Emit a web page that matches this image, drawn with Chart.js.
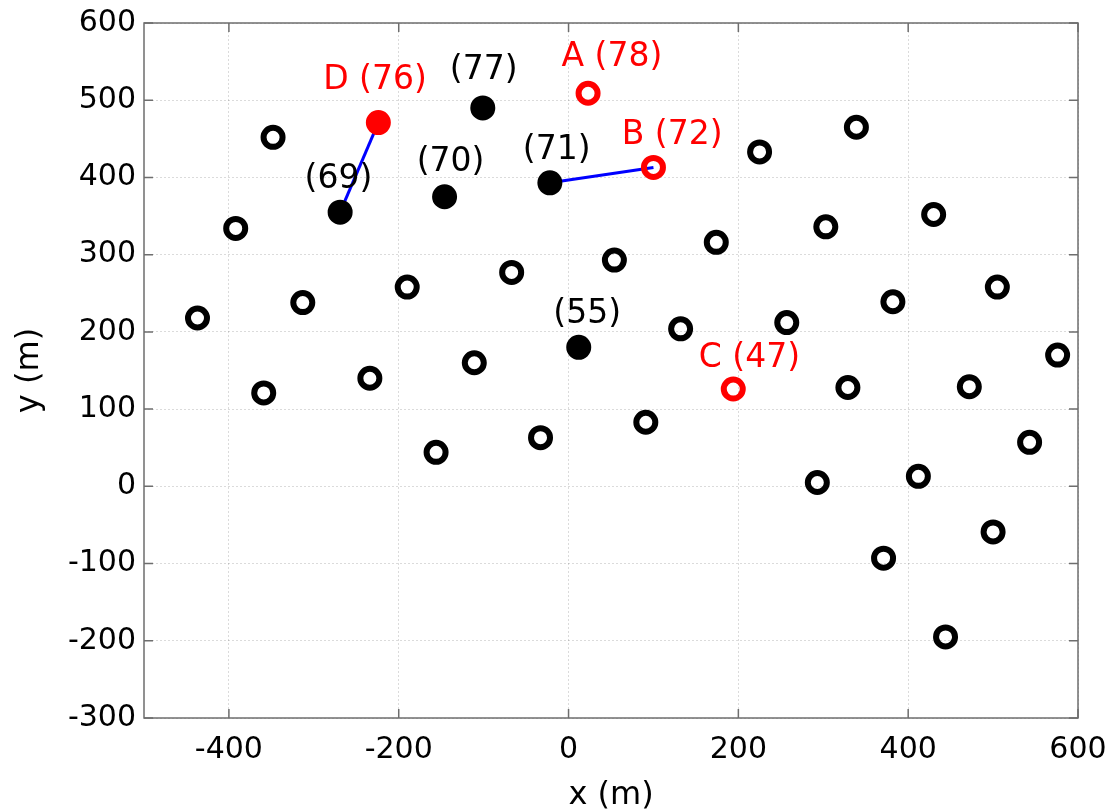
<!DOCTYPE html>
<html>
<head>
<meta charset="utf-8">
<script src="https://cdn.jsdelivr.net/npm/chart.js@4/dist/chart.umd.min.js"></script>
<style>
html,body{margin:0;padding:0;background:#fff;}
#wrap{width:1110px;height:812px;}
</style>
</head>
<body>
<div id="wrap"><canvas id="c" width="1110" height="812"></canvas></div>
<script>
// ---- data (metres) ----
const openX = [-348,-392,-437,-313,-190,-359,-234,-156,-111,-67,54,174,225,339,430,303,132,91,-33,257,382,505,576,329,472,543,293,412,500,371,444];
const openY = [452,334,218,238,258,121,140,44,160,277,293,316,433,465,352,336,204,83,63,212,239,258,170,128,129,57,5,13,-59,-93,-195];

const filledX = [-269,-146,-101,-22,12];
const filledY = [355,375,490,393,180];
const filledLabels = ['(69)','(70)','(77)','(71)','(55)'];

const redOpenX = [23,100,194];
const redOpenY = [509,413,126];
const redOpenLabels = ['A (78)','B (72)','C (47)'];

const redFilledX = [-224];
const redFilledY = [471];
const redFilledLabels = ['D (76)'];

// label anchor (data coords, text centre)
const filledLabelX = [-271,-139,-100,-14,22];
const filledLabelY = [397,420,539,435,223];
const redOpenLabelX = [51,122,213];
const redOpenLabelY = [556,455,166];
const redFilledLabelX = [-228];
const redFilledLabelY = [526];

// connecting segments
const link1X = [-269,-224], link1Y = [355,471];
const link2X = [-22,100],   link2Y = [393,413];

const xTicks = [-400,-200,0,200,400,600];
const yTicks = [-300,-200,-100,0,100,200,300,400,500,600];
const xMin = -500, xMax = 600, yMin = -300, yMax = 600;

const zip = (xs, ys) => xs.map((x,i)=>({x, y: ys[i]}));

const FONT = "'DejaVu Sans', sans-serif";

const labelPlugin = {
  id: 'labels',
  afterDatasetsDraw(chart){
    const ctx = chart.ctx, xs = chart.scales.x, ys = chart.scales.y;
    ctx.save();
    ctx.font = "33px " + FONT;
    ctx.textAlign = 'center';
    ctx.textBaseline = 'middle';
    const draw = (lx, ly, txt, col) => {
      lx.forEach((v,i)=>{
        ctx.fillStyle = col;
        ctx.fillText(txt[i], xs.getPixelForValue(v), ys.getPixelForValue(ly[i]));
      });
    };
    draw(filledLabelX, filledLabelY, filledLabels, '#000');
    draw(redOpenLabelX, redOpenLabelY, redOpenLabels, '#ff0000');
    draw(redFilledLabelX, redFilledLabelY, redFilledLabels, '#ff0000');
    ctx.restore();
  }
};

const boxPlugin = {
  id: 'box',
  afterDraw(chart){
    const {ctx, chartArea: a} = chart;
    const xs = chart.scales.x, ys = chart.scales.y;
    ctx.save();
    ctx.strokeStyle = '#6e6e6e';
    ctx.lineWidth = 1.5;
    ctx.setLineDash([]);
    ctx.strokeRect(a.left, a.top, a.right - a.left, a.bottom - a.top);
    const tl = 9;
    ctx.beginPath();
    xTicks.forEach(v=>{
      const p = xs.getPixelForValue(v);
      ctx.moveTo(p, a.bottom); ctx.lineTo(p, a.bottom - tl);
      ctx.moveTo(p, a.top); ctx.lineTo(p, a.top + tl);
    });
    yTicks.forEach(v=>{
      const p = ys.getPixelForValue(v);
      ctx.moveTo(a.left, p); ctx.lineTo(a.left + tl, p);
      ctx.moveTo(a.right, p); ctx.lineTo(a.right - tl, p);
    });
    ctx.stroke();
    ctx.restore();
  }
};

const ptOpen = { pointStyle: 'circle', pointRadius: 9.5, pointBorderWidth: 6, pointHoverRadius: 9.5 };

new Chart(document.getElementById('c'), {
  type: 'scatter',
  data: {
    datasets: [
      Object.assign({ data: zip(openX, openY), borderColor: '#000', backgroundColor: 'rgba(0,0,0,0)' }, ptOpen),
      Object.assign({ data: zip(filledX, filledY), borderColor: '#000', backgroundColor: '#000' }, ptOpen),
      Object.assign({ data: zip(redOpenX, redOpenY), borderColor: '#ff0000', backgroundColor: 'rgba(0,0,0,0)' }, ptOpen),
      Object.assign({ data: zip(redFilledX, redFilledY), borderColor: '#ff0000', backgroundColor: '#ff0000' }, ptOpen),
      { data: zip(link1X, link1Y), showLine: true, pointRadius: 0, borderColor: '#0000ff', borderWidth: 3 },
      { data: zip(link2X, link2Y), showLine: true, pointRadius: 0, borderColor: '#0000ff', borderWidth: 3 }
    ]
  },
  options: {
    responsive: false,
    animation: false,
    events: [],
    layout: { padding: { top: 23, right: 32, left: 0, bottom: 0 } },
    plugins: { legend: { display: false }, tooltip: { enabled: false } },
    scales: {
      x: {
        type: 'linear', min: xMin, max: xMax,
        afterBuildTicks: s => { s.ticks = xTicks.map(v=>({value: v})); },
        afterFit: s => { s.height = 94; s.paddingLeft = 0; s.paddingRight = 0; },
        grid: { color: 'rgba(0,0,0,0.14)', lineWidth: 1, drawTicks: false },
        border: { display: false, dash: [2,2] },
        ticks: { color: '#000', font: { family: FONT, size: 30 }, padding: 14, maxRotation: 0,
                 callback: v => String(v) },
        title: { display: true, text: 'x (m)', color: '#000', font: { family: FONT, size: 32 },
                 padding: { top: 0, bottom: -3 } }
      },
      y: {
        type: 'linear', min: yMin, max: yMax,
        afterBuildTicks: s => { s.ticks = yTicks.map(v=>({value: v})); },
        afterFit: s => { s.width = 144; s.paddingTop = 0; s.paddingBottom = 0; },
        grid: { color: 'rgba(0,0,0,0.14)', lineWidth: 1, drawTicks: false },
        border: { display: false, dash: [2,2] },
        ticks: { color: '#000', font: { family: FONT, size: 30 }, padding: 8,
                 callback: v => String(v) },
        title: { display: true, text: 'y (m)', color: '#000', font: { family: FONT, size: 32 },
                 padding: { top: 10, bottom: 0 } }
      }
    }
  },
  plugins: [labelPlugin, boxPlugin]
});
</script>
</body>
</html>
